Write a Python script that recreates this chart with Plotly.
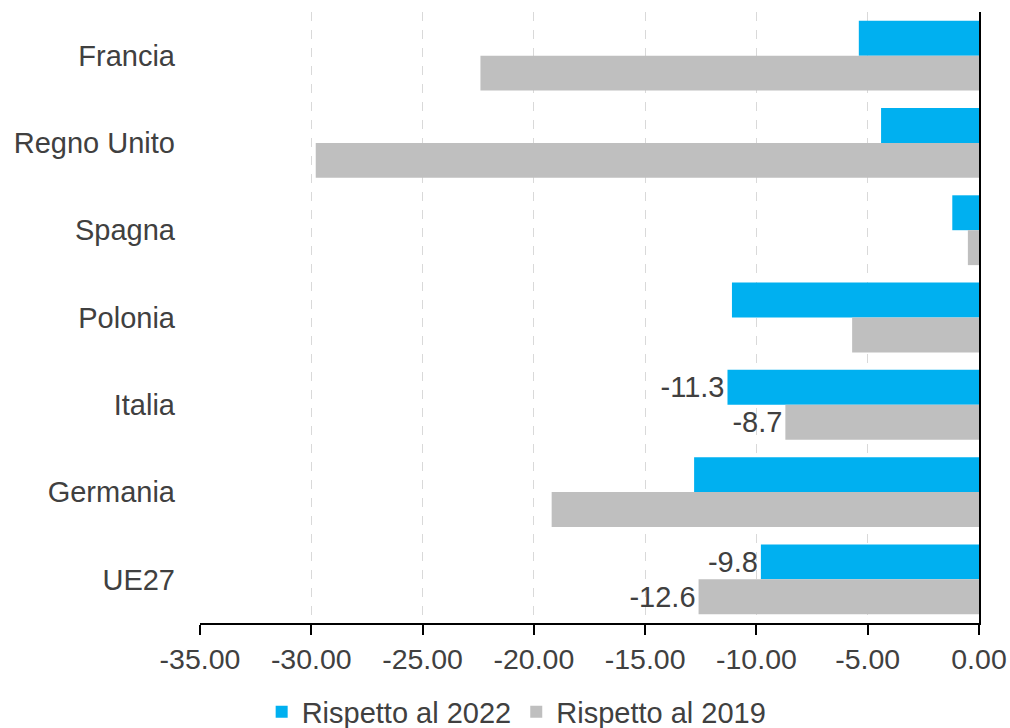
import plotly.graph_objects as go

categories = ["Francia", "Regno Unito", "Spagna", "Polonia", "Italia", "Germania", "UE27"]
vs_2022 = [-5.4, -4.4, -1.2, -11.1, -11.3, -12.8, -9.8]
vs_2019 = [-22.4, -29.8, -0.5, -5.7, -8.7, -19.2, -12.6]
labels_2022 = ["", "", "", "", "-11.3", "", "-9.8"]
labels_2019 = ["", "", "", "", "-8.7", "", "-12.6"]
tick_vals = [-35, -30, -25, -20, -15, -10, -5, 0]
tick_text = ["-35.00", "-30.00", "-25.00", "-20.00", "-15.00", "-10.00", "-5.00", "0.00"]

font_family = "Liberation Sans, Arial, sans-serif"
text_color = "#404040"
cat_range = [len(categories) - 0.5, -0.5]

fig = go.Figure()
fig.add_trace(go.Bar(
    y=categories, x=vs_2022, orientation="h", name="Rispetto al 2022",
    marker=dict(color="#00B0F0", line=dict(width=0)),
    text=labels_2022, textposition="outside", cliponaxis=False,
    textfont=dict(size=29, color=text_color, family=font_family),
))
fig.add_trace(go.Bar(
    y=categories, x=vs_2019, orientation="h", name="Rispetto al 2019",
    marker=dict(color="#BFBFBF", line=dict(width=0)),
    text=labels_2019, textposition="outside", cliponaxis=False,
    textfont=dict(size=29, color=text_color, family=font_family),
))

fig.update_layout(
    width=1010, height=728,
    margin=dict(l=200, r=31, t=12, b=105, autoexpand=False),
    barmode="group", bargap=0.2, bargroupgap=0,
    plot_bgcolor="white", paper_bgcolor="white",
    font=dict(family=font_family, color=text_color, size=29),
    showlegend=True,
    legend=dict(orientation="h", x=0.4065, xanchor="center", y=-0.1457, yanchor="middle",
                font=dict(size=29, color=text_color), traceorder="normal",
                itemwidth=30, tracegroupgap=0),
    uniformtext=dict(mode=False),
)
fig.update_xaxes(
    range=[-35, 0], tickvals=tick_vals, ticktext=tick_text, automargin=False,
    showgrid=True, gridcolor="#D9D9D9", griddash="dash", gridwidth=1,
    showline=True, linecolor="black", linewidth=2,
    ticks="outside", ticklen=10, tickcolor="black", tickwidth=2,
    tickfont=dict(size=28.5, color=text_color), zeroline=False,
)
fig.update_yaxes(
    range=cat_range, categoryorder="array", categoryarray=categories,
    showline=True, linecolor="black", linewidth=2, side="right", automargin=False,
    showticklabels=False, ticks="", showgrid=False, zeroline=False,
)
fig.update_layout(
    yaxis2=dict(overlaying="y", side="left", range=cat_range, automargin=False,
                categoryorder="array", categoryarray=categories, type="category",
                showline=False, ticks="", showgrid=False, zeroline=False,
                tickfont=dict(size=29, color=text_color), ticklabelstandoff=24),
)
fig.add_trace(go.Scatter(y=categories, x=[0]*len(categories), yaxis="y2", mode="markers",
                         marker=dict(opacity=0), showlegend=False, hoverinfo="skip"))

fig.write_html(
    "out.html",
    config={"displayModeBar": False},
    post_script="document.body.style.margin='0';document.body.style.overflow='hidden';",
)
